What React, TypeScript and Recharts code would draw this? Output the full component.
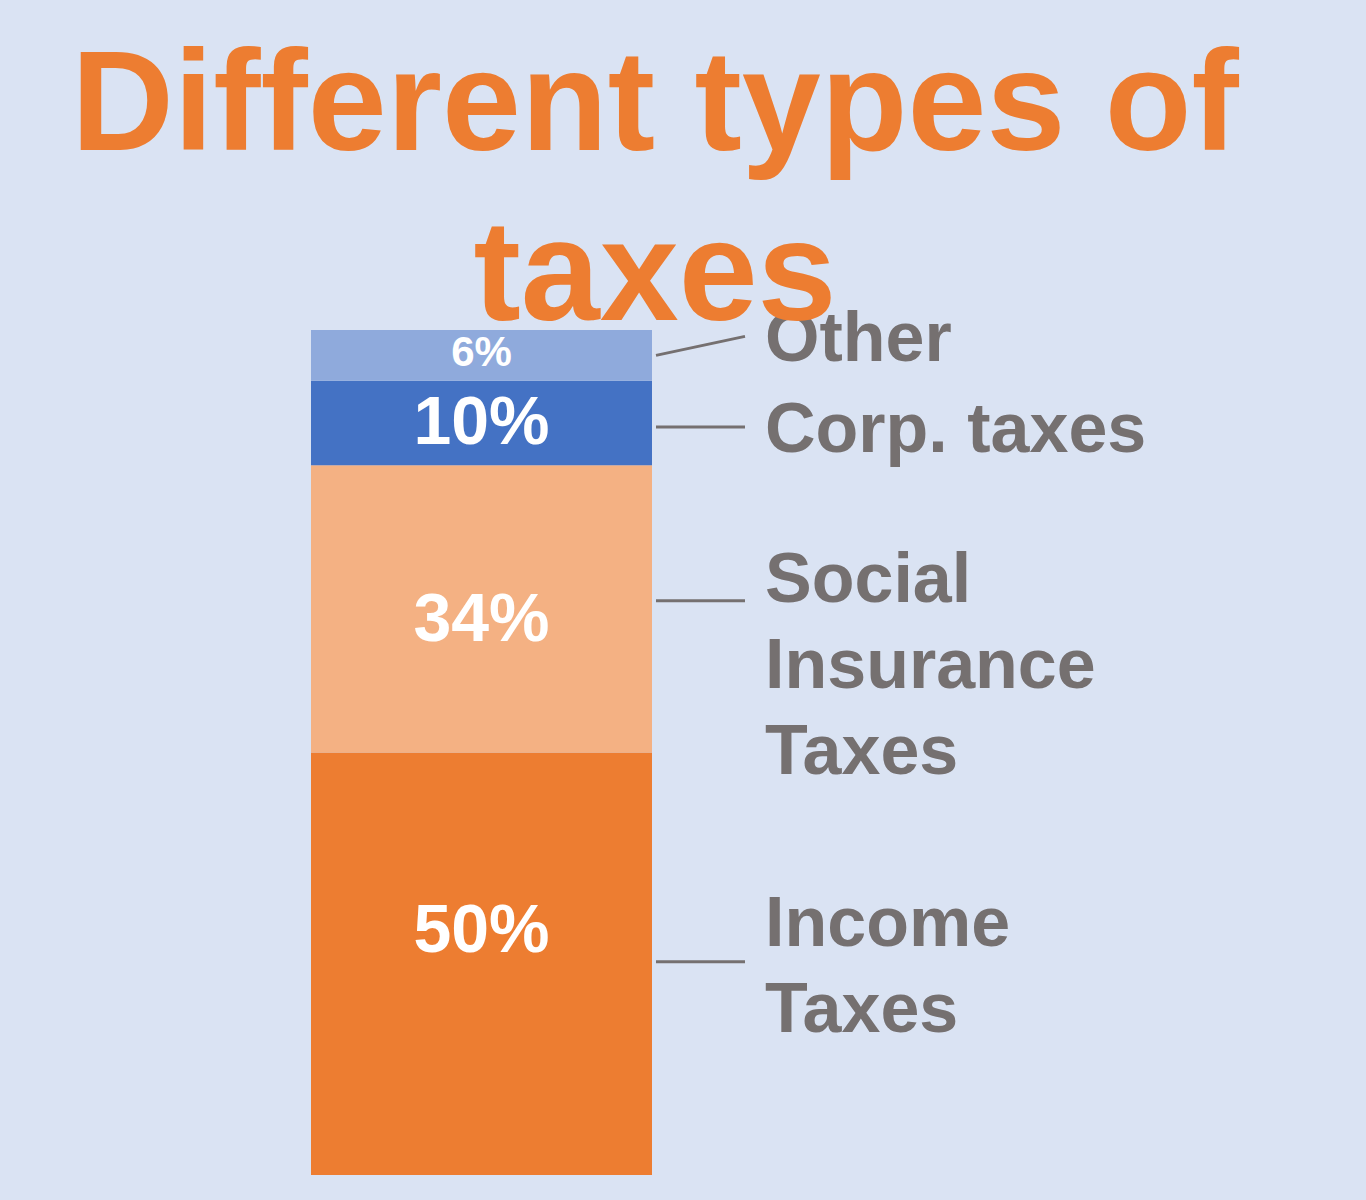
import { Bar, BarChart, LabelList, XAxis, YAxis } from 'recharts';

const categories = ['Income Taxes', 'Social Insurance Taxes', 'Corp. taxes', 'Other'];
const shares = [50, 34, 10, 6];
const labelLines = [['Income', 'Taxes'], ['Social', 'Insurance', 'Taxes'], ['Corp. taxes'], ['Other']];
const colors = ['#ED7D31', '#F4B183', '#4472C4', '#8FAADC'];

const keys = ['income', 'social', 'corp', 'other'];
const row: Record<string, number | string> = { name: 'Taxes' };
keys.forEach((k, i) => {
  row[k] = shares[i];
});
const chartData = [row];

// per-segment nudges so labels sit where the original slide put them
const labelLayout = [
  { pctDy: -36, pctSize: 68, leadDy: -2, leadRise: 0, textDy: -41 },
  { pctDy: 8, pctSize: 68, leadDy: -8, leadRise: 0, textDy: -24 },
  { pctDy: -3, pctSize: 68, leadDy: 4, leadRise: 0, textDy: 0 },
  { pctDy: -4, pctSize: 42, leadDy: 0, leadRise: -19, textDy: 0 }
];

const FONT = '"Liberation Sans", Arial, sans-serif';
const GREY = '#757070';

const makeLabel = (idx: number) => (props: any) => {
  const x = Number(props.x);
  const y = Number(props.y);
  const w = Number(props.width);
  const h = Number(props.height);
  const cfg = labelLayout[idx];
  const cx = x + w / 2;
  const cy = y + h / 2;
  const leadY = cy + cfg.leadDy;
  const endY = leadY + cfg.leadRise;
  const firstCenter = endY + cfg.textDy;
  const cap = 70 * 0.716;
  return (
    <g>
      <text
        x={cx}
        y={cy + cfg.pctDy + (cfg.pctSize * 0.716) / 2}
        textAnchor="middle"
        fill="#FFFFFF"
        fontFamily={FONT}
        fontWeight="bold"
        fontSize={cfg.pctSize}
      >
        {props.value}%
      </text>
      <line x1={x + w + 4} y1={leadY} x2={x + w + 93} y2={endY} stroke={GREY} strokeWidth={3} />
      <text fill={GREY} fontFamily={FONT} fontWeight="bold" fontSize={70}>
        {labelLines[idx].map((t, j) => (
          <tspan key={t + j} x={x + w + 113} y={firstCenter + cap / 2 + j * 86}>
            {t}
          </tspan>
        ))}
      </text>
    </g>
  );
};

export default function App() {
  return (
    <div
      style={{
        position: 'absolute',
        left: 0,
        top: 0,
        width: 1366,
        height: 1200,
        background: '#DAE3F3',
        overflow: 'hidden'
      }}
    >
      <BarChart
        width={1366}
        height={1200}
        data={chartData}
        margin={{ top: 330, right: 714, bottom: 25, left: 311 }}
        barCategoryGap={0}
      >
        <XAxis dataKey="name" hide />
        <YAxis type="number" domain={[0, 100]} hide width={0} />
        {keys.map((k, i) => (
          <Bar key={k} dataKey={k} name={categories[i]} stackId="a" fill={colors[i]} isAnimationActive={false}>
            <LabelList dataKey={k} content={makeLabel(i)} />
          </Bar>
        ))}
      </BarChart>
      <div
        style={{
          position: 'absolute',
          left: 0,
          top: 16,
          width: 1310,
          textAlign: 'center',
          color: '#ED7D31',
          fontFamily: FONT,
          fontWeight: 'bold',
          fontSize: 142,
          lineHeight: '170px',
          pointerEvents: 'none'
        }}
      >
        Different types of
        <br />
        taxes
      </div>
    </div>
  );
}
